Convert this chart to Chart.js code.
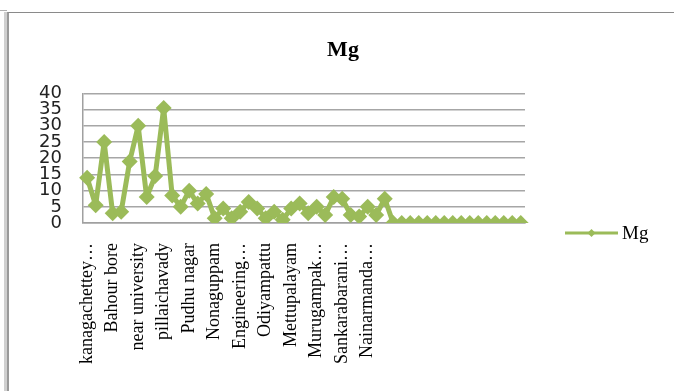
<!DOCTYPE html>
<html>
<head>
<meta charset="utf-8">
<script src="https://cdn.jsdelivr.net/npm/chart.js@4/dist/chart.umd.min.js"></script>
<style>
  html, body { margin: 0; padding: 0; background: #fff; overflow: hidden; }
  #wrap { position: relative; width: 674px; height: 391px; }
  #frame { position: absolute; left: 7px; top: 12px; width: 720px; height: 420px;
           border-top: 1px solid #8a8a8a; border-left: 2px solid #9a9a9a;
           box-shadow: -3px 0 0 #d0d0d0; }
  #notch { position: absolute; left: 0; top: 10px; width: 7px; height: 0;
           border-top: 1px solid #b0b0b0; }
  canvas { position: absolute; left: 0; top: 0; }
</style>
</head>
<body>
<div id="wrap">
  <div id="notch"></div>
  <div id="frame"></div>
  <canvas id="c" width="674" height="391"></canvas>
</div>
<script>
// Sampling sites (only every third name is printed along the axis)
const sites = [
  'kanagachettey…', '', '', 'Bahour bore', '', '', 'near university', '', '',
  'pillaichavady', '', '', 'Pudhu nagar', '', '', 'Nonaguppam', '', '',
  'Engineering…', '', '', 'Odiyampattu', '', '', 'Mettupalayam', '', '',
  'Murugampak…', '', '', 'Sankarabarani…', '', '', 'Nainarmanda…', '', '',
  '', '', '', '', '', '', '', '', '', '', '', '', '', '', '', ''
];

// Magnesium readings per site
const mgValues = [
  14, 5.5, 25, 3, 3.5, 19, 30, 8, 14.5, 35.5, 8.5, 5, 10, 6, 9, 1.5, 4.5, 1.5,
  3.5, 6.5, 4.5, 1.5, 3.5, 1, 4.5, 6, 3, 5, 2.5, 8, 7.5, 2.5, 2, 5, 2.5, 7.5,
  0, 0, 0, 0, 0, 0, 0, 0, 0, 0, 0, 0, 0, 0, 0, 0
];

// Value axis ticks
const yTicks = [0, 5, 10, 15, 20, 25, 30, 35, 40];

const GREEN = '#9bbb59';
const SERIF = '"Liberation Serif", "Times New Roman", serif';

// Legend to the right of the plot: line with a diamond, then the series name
const sideLegend = {
  id: 'sideLegend',
  afterDraw(chart) {
    const ds = chart.data.datasets[0];
    const area = chart.chartArea;
    const ctx = chart.ctx;
    const x0 = area.right + 40, x1 = x0 + 53;
    const y = area.bottom + 10;
    const cx = (x0 + x1) / 2, r = 4;
    ctx.save();
    ctx.strokeStyle = ds.borderColor;
    ctx.lineWidth = 3;
    ctx.beginPath();
    ctx.moveTo(x0, y);
    ctx.lineTo(x1, y);
    ctx.stroke();
    ctx.fillStyle = ds.borderColor;
    ctx.beginPath();
    ctx.moveTo(cx - r, y);
    ctx.lineTo(cx, y - r);
    ctx.lineTo(cx + r, y);
    ctx.lineTo(cx, y + r);
    ctx.closePath();
    ctx.fill();
    ctx.fillStyle = '#000';
    ctx.font = '19px ' + SERIF;
    ctx.textBaseline = 'middle';
    ctx.textAlign = 'left';
    ctx.fillText(ds.label, x1 + 4, y + 1);
    ctx.restore();
  }
};

new Chart(document.getElementById('c'), {
  type: 'line',
  data: {
    labels: sites,
    datasets: [{
      label: 'Mg',
      data: mgValues,
      borderColor: GREEN,
      backgroundColor: GREEN,
      borderWidth: 5,
      borderJoinStyle: 'round',
      borderCapStyle: 'round',
      pointStyle: 'rectRot',
      pointRadius: 8,
      pointBackgroundColor: GREEN,
      pointBorderColor: GREEN,
      pointBorderWidth: 0,
      tension: 0,
      fill: false
    }]
  },
  options: {
    responsive: false,
    animation: false,
    devicePixelRatio: 1,
    layout: { padding: { left: 18, right: 6, top: 0, bottom: 7 } },
    plugins: {
      tooltip: { enabled: false },
      legend: { display: false },
      title: {
        display: true,
        text: 'Mg',
        color: '#000',
        font: { family: SERIF, size: 22, weight: 'bold' },
        padding: { top: 37, bottom: 30 }
      }
    },
    scales: {
      x: {
        offset: true,
        grid: { display: false, drawTicks: false },
        border: { display: true, color: '#a0a0a0', width: 1.5 },
        ticks: {
          autoSkip: false,
          minRotation: 90,
          maxRotation: 90,
          padding: 20,
          color: '#000',
          font: { family: SERIF, size: 18 }
        }
      },
      y: {
        min: 0,
        max: 40,
        afterBuildTicks(scale) {
          scale.ticks = yTicks.map(v => ({ value: v }));
        },
        grid: { color: '#a6a6a6', lineWidth: 1.5, drawTicks: false },
        border: { display: true, color: '#a0a0a0', width: 1.5 },
        ticks: {
          autoSkip: false,
          padding: 21,
          color: '#222',
          font: { family: '"DejaVu Sans", sans-serif', size: 18 }
        }
      },
      // empty right-hand band that holds the legend
      legendBand: {
        type: 'linear',
        position: 'right',
        display: true,
        grid: { display: false, drawTicks: false },
        border: { display: false },
        ticks: { display: false },
        afterFit(scale) { scale.width = 143; }
      }
    }
  },
  plugins: [sideLegend]
});
</script>
</body>
</html>
